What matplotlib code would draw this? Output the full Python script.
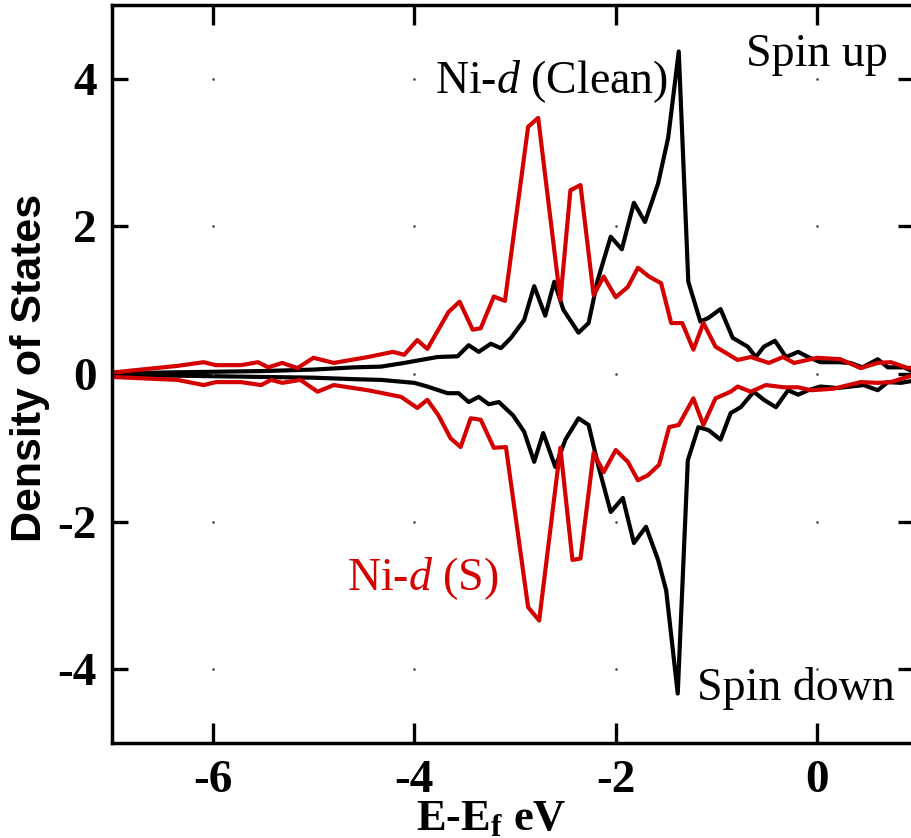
import matplotlib
matplotlib.use("Agg")
import matplotlib.pyplot as plt
import numpy as np

plt.rcParams['mathtext.fontset'] = 'custom'
plt.rcParams['mathtext.rm'] = 'Liberation Serif'
plt.rcParams['mathtext.it'] = 'Liberation Serif:italic'
plt.rcParams['mathtext.bf'] = 'Liberation Serif:bold'

# Ni-d (clean), spin up / spin down
clean_up_x = [-7.0, -6.5, -6.0, -5.5, -5.0, -4.6, -4.33, -4.1, -3.77, -3.57, -3.46, -3.36, -3.24, -3.14,
              -3.04, -2.91, -2.81, -2.70, -2.61, -2.52, -2.37, -2.27, -2.18, -2.05, -1.94, -1.82, -1.71,
              -1.58, -1.48, -1.375, -1.28, -1.16, -1.08, -0.96, -0.84, -0.69, -0.61, -0.53, -0.42, -0.31,
              -0.19, -0.09, 0.03, 0.20, 0.33, 0.45, 0.60, 0.70, 0.86, 1.0]
clean_up_y = [0.0, 0.02, 0.03, 0.04, 0.06, 0.09, 0.10, 0.15, 0.23, 0.24, 0.39, 0.30, 0.41, 0.35,
              0.49, 0.73, 1.19, 0.79, 1.25, 0.87, 0.56, 0.69, 1.27, 1.86, 1.69, 2.32, 2.06,
              2.58, 3.2, 4.37, 1.25, 0.71, 0.76, 0.88, 0.49, 0.37, 0.23, 0.37, 0.45, 0.23,
              0.30, 0.23, 0.16, 0.16, 0.15, 0.09, 0.20, 0.09, 0.09, 0.0]

clean_dn_x = [-7.0, -6.5, -6.0, -5.5, -5.0, -4.6, -4.33, -4.0, -3.87, -3.67, -3.56, -3.46, -3.36, -3.26,
              -3.16, -3.02, -2.91, -2.81, -2.72, -2.60, -2.50, -2.37, -2.27, -2.17, -2.05, -1.93, -1.82,
              -1.70, -1.58, -1.50, -1.385, -1.285, -1.18, -1.08, -0.96, -0.86, -0.76, -0.63, -0.53,
              -0.41, -0.29, -0.19, -0.09, 0.03, 0.20, 0.33, 0.46, 0.60, 0.70, 0.83, 1.0]
clean_dn_y = [0.0, -0.02, -0.03, -0.04, -0.05, -0.07, -0.08, -0.12, -0.17, -0.26, -0.26, -0.38, -0.31, -0.41,
              -0.38, -0.56, -0.78, -1.19, -0.80, -1.26, -0.89, -0.60, -0.69, -1.26, -1.87, -1.68, -2.29,
              -2.07, -2.52, -2.93, -4.33, -1.17, -0.72, -0.76, -0.89, -0.53, -0.45, -0.24, -0.35,
              -0.45, -0.22, -0.28, -0.22, -0.17, -0.19, -0.17, -0.15, -0.22, -0.11, -0.12, -0.08]

# Ni-d (S adsorbed), spin up / spin down
s_up_x = [-7.0, -6.35, -6.09, -5.97, -5.72, -5.55, -5.45, -5.31, -5.16, -5.0, -4.80, -4.46, -4.21,
          -4.10, -3.97, -3.87, -3.66, -3.55, -3.42, -3.34, -3.21, -3.10, -2.87, -2.77, -2.55, -2.45,
          -2.35, -2.22, -2.12, -2.0, -1.88, -1.78, -1.67, -1.55, -1.45, -1.34, -1.23, -1.13, -1.01,
          -0.79, -0.66, -0.48, -0.34, -0.23, 0.0, 0.23, 0.43, 0.60, 0.73, 0.90, 1.0]
s_up_y = [0.02, 0.11, 0.16, 0.12, 0.12, 0.16, 0.09, 0.15, 0.08, 0.22, 0.15, 0.23, 0.30,
          0.26, 0.46, 0.34, 0.84, 0.98, 0.60, 0.62, 1.05, 0.99, 3.35, 3.47, 1.00, 2.49,
          2.56, 1.07, 1.32, 1.04, 1.18, 1.44, 1.32, 1.23, 0.69, 0.69, 0.33, 0.69, 0.37,
          0.19, 0.23, 0.15, 0.23, 0.15, 0.22, 0.20, 0.08, 0.15, 0.16, 0.08, 0.10]

s_dn_x = [-7.0, -6.35, -6.09, -5.97, -5.72, -5.52, -5.42, -5.31, -5.13, -4.96, -4.80, -4.46, -4.13,
          -3.97, -3.87, -3.76, -3.64, -3.54, -3.44, -3.34, -3.21, -3.09, -2.87, -2.76, -2.55, -2.43,
          -2.35, -2.22, -2.12, -2.0, -1.88, -1.78, -1.68, -1.57, -1.47, -1.375, -1.23, -1.13, -1.01,
          -0.86, -0.79, -0.66, -0.51, -0.33, -0.19, -0.06, 0.16, 0.43, 0.60, 0.73, 0.94, 1.0]
s_dn_y = [-0.04, -0.08, -0.15, -0.11, -0.11, -0.15, -0.08, -0.12, -0.08, -0.24, -0.15, -0.22, -0.31,
          -0.46, -0.35, -0.56, -0.87, -0.99, -0.60, -0.62, -1.00, -0.99, -3.16, -3.34, -1.00, -2.52,
          -2.50, -1.07, -1.33, -1.03, -1.19, -1.44, -1.37, -1.23, -0.72, -0.69, -0.33, -0.69, -0.33,
          -0.24, -0.17, -0.24, -0.15, -0.18, -0.18, -0.22, -0.20, -0.11, -0.12, -0.11, -0.02, -0.05]

x_ticks = [-6, -4, -2, 0]
y_ticks = [-4, -2, 0, 2, 4]

RED = '#d40000'
W, H = 911, 838

fig = plt.figure(figsize=(W / 100, H / 100), dpi=100)
ax = fig.add_axes([112 / W, (H - 743) / H, (914 - 112) / W, (743 - 5) / H])

ax.plot(clean_up_x, clean_up_y, color='black', lw=3.0)
ax.plot(clean_dn_x, clean_dn_y, color='black', lw=3.0)
ax.plot(s_up_x, s_up_y, color=RED, lw=3.0)
ax.plot(s_dn_x, s_dn_y, color=RED, lw=3.0)

# tiny grid dots at tick intersections
gx, gy = np.meshgrid(x_ticks, y_ticks)
ax.plot(gx.ravel(), gy.ravel(), ls='none', marker='s', ms=0.8, color='#444444')

ax.set_xlim(-7, 0.96)
ax.set_ylim(-5, 5)
ax.set_xticks(x_ticks)
ax.set_yticks(y_ticks)
ax.set_xticklabels([str(v) for v in x_ticks], fontfamily='Liberation Serif', fontweight='bold', fontsize=34)
ax.set_yticklabels([str(v) for v in y_ticks], fontfamily='Liberation Serif', fontweight='bold', fontsize=34)
ax.tick_params(axis='x', direction='in', length=14.4, width=2.4, top=True, pad=12)
ax.tick_params(axis='y', direction='in', length=11.5, width=2.4, right=True, pad=11)
for sp in ax.spines.values():
    sp.set_linewidth(2.5)

fig.text(30 / W, 1 - 368 / H, 'Density of States', rotation=90, ha='center', va='center',
         fontfamily='Liberation Sans', fontweight='bold', fontsize=31)
fig.text(491 / W, 1 - 830 / H, r'E-E$_{\mathbf{f}}$ eV', ha='center', va='baseline',
         fontfamily='Liberation Serif', fontweight='bold', fontsize=32)

ax.text(-1.48, 3.81, r'Ni-$d$ (Clean)', ha='right', va='baseline', color='black',
        fontfamily='Liberation Serif', fontsize=33)
ax.text(-3.16, -2.93, r'Ni-$d$ (S)', ha='right', va='baseline', color=RED,
        fontfamily='Liberation Serif', fontsize=33)
ax.text(0.7, 4.18, 'Spin up', ha='right', va='baseline', color='black',
        fontfamily='Liberation Serif', fontsize=33)
ax.text(0.77, -4.42, 'Spin down', ha='right', va='baseline', color='black',
        fontfamily='Liberation Serif', fontsize=33)

fig.savefig('out.png', dpi=100)
